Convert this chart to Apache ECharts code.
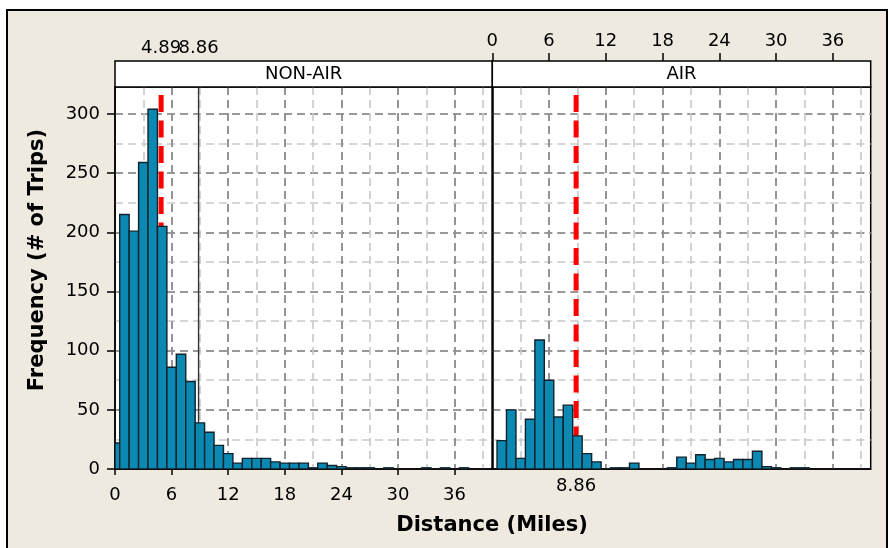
<!DOCTYPE html>
<html><head><meta charset="utf-8">
<script src="https://cdn.jsdelivr.net/npm/echarts@6/dist/echarts.min.js"></script>
<style>html,body{margin:0;padding:0;background:#fff}#c{width:889px;height:548px}</style>
</head><body><div id="c"></div>
<script>
// ---- data ----
const nonAirBins   = [0,1,2,3,4,5,6,7,8,9,10,11,12,13,14,15,16,17,18,19,20,21,22,23,24,25,26,27,28,29,30,31,32,33,34,35,36,37];
const nonAirCounts = [22,215,201,259,304,205,86,97,74,39,31,20,13,5,9,9,9,6,5,5,5,1,5,3,2,1,1,1,0,1,0,0,0,1,0,1,0,1];
const airBins      = [0,1,2,3,4,5,6,7,8,9,10,11,12,13,14,15,16,17,18,19,20,21,22,23,24,25,26,27,28,29,30,31,32,33];
const airCounts    = [0,24,50,9,42,109,75,44,54,28,13,6,0,1,1,5,0,0,0,1,10,5,12,8,9,6,8,8,15,2,1,0,1,1];
const binWidth = 1;
const panelNames = ['NON-AIR', 'AIR'];
const nonAirMean = 4.89;
const airMean = 8.86;
const overallMean = 8.86;
const xMin = 0, xMax = 40, xStep = 6, xMinorStep = 3;
const yMin = 0, yMax = 322.8, yStep = 50, yMinorStep = 25;
const xTitle = 'Distance (Miles)';
const yTitle = 'Frequency (# of Trips)';

// ---- style ----
const FONT = 'DejaVu Sans';
const BG = '#EEEAE0';
const BAR = '#0B89B3';
const EDGE = '#10232c';
const DARK = '#858585';
const LIGHT = '#C9C9C9';

const G0 = {left: 115, top: 87, width: 377.3, height: 382};
const G1 = {left: 492.3, top: 87, width: 378.4, height: 382};

function pairs(xs, ys) { return xs.map((x, i) => [x, ys[i]]); }

function barItem(params, api) {
  const c = api.value(0), v = api.value(1);
  if (!v) return null;
  const p0 = api.coord([Math.max(c - binWidth / 2, xMin), v]);
  const p1 = api.coord([c + binWidth / 2, 0]);
  return {
    type: 'rect',
    shape: {x: p0[0], y: p0[1], width: p1[0] - p0[0], height: p1[1] - p0[1]},
    style: {fill: BAR, stroke: EDGE, lineWidth: 1.4}
  };
}

const minorX = (g) => ({
  type: 'value', gridIndex: g, min: xMin, max: xMax, interval: xMinorStep, position: 'bottom',
  axisLine: {show: false}, axisTick: {show: false}, axisLabel: {show: false},
  splitLine: {show: true, showMinLine: false, showMaxLine: false, lineStyle: {color: LIGHT, width: 1.6, type: [8, 5]}}
});
const minorY = (g) => ({
  type: 'value', gridIndex: g, min: yMin, max: yMax, interval: yMinorStep, position: 'left',
  axisLine: {show: false}, axisTick: {show: false}, axisLabel: {show: false},
  splitLine: {show: true, showMinLine: false, showMaxLine: false, lineStyle: {color: LIGHT, width: 1.6, type: [8, 5]}}
});
const refLabelAxis = (g, v) => ({
  type: 'value', gridIndex: g, min: xMin, max: xMax, position: 'top', offset: 26,
  axisLine: {show: false}, axisTick: {show: false}, splitLine: {show: false},
  axisLabel: Object.assign({margin: 4, customValues: [v], showMinLabel: true, showMaxLabel: true}, lblStyle)
});
const majorSplit = {show: true, showMinLine: false, showMaxLine: false, lineStyle: {color: DARK, width: 1.6, type: [8, 5]}};
const lblStyle = {fontFamily: FONT, fontSize: 18, color: '#000'};

const option = {
  backgroundColor: '#fff',
  animation: false,
  grid: [
    Object.assign({show: true, backgroundColor: '#fff', borderColor: '#000', borderWidth: 1.5}, G0),
    Object.assign({show: true, backgroundColor: '#fff', borderColor: '#000', borderWidth: 1.5}, G1)
  ],
  xAxis: [
    minorX(0), minorX(1),
    { // 2: left bottom
      type: 'value', gridIndex: 0, min: xMin, max: xMax, interval: xStep, position: 'bottom',
      axisLine: {show: true, lineStyle: {color: '#000', width: 1.5}},
      axisTick: {show: true, length: 6, lineStyle: {color: '#000', width: 1.5}},
      axisLabel: Object.assign({margin: 17, showMaxLabel: false}, lblStyle),
      splitLine: majorSplit
    },
    { // 3: right bottom
      type: 'value', gridIndex: 1, min: xMin, max: xMax, interval: xStep, position: 'bottom',
      axisLine: {show: true, lineStyle: {color: '#000', width: 1.5}},
      axisTick: {show: false},
      axisLabel: Object.assign({margin: 8, customValues: [airMean], showMinLabel: true, showMaxLabel: true}, lblStyle),
      splitLine: majorSplit
    },
    refLabelAxis(0, nonAirMean), // 4
    refLabelAxis(0, overallMean), // 5
    { // 6: right top scale
      type: 'value', gridIndex: 1, min: xMin, max: xMax, interval: xStep, position: 'top', offset: 26,
      axisLine: {show: false},
      axisTick: {show: true, length: 8, lineStyle: {color: '#000', width: 1.5}},
      splitLine: {show: false},
      axisLabel: Object.assign({margin: 11, showMaxLabel: false}, lblStyle)
    }
  ],
  yAxis: [
    minorY(0), minorY(1),
    { // 2: left
      type: 'value', gridIndex: 0, min: yMin, max: yMax, interval: yStep, position: 'left',
      axisLine: {show: true, lineStyle: {color: '#000', width: 1.5}},
      axisTick: {show: true, length: 8, lineStyle: {color: '#000', width: 1.5}},
      axisLabel: Object.assign({margin: 15, showMaxLabel: false}, lblStyle),
      splitLine: majorSplit
    },
    { // 3: right
      type: 'value', gridIndex: 1, min: yMin, max: yMax, interval: yStep, position: 'left',
      axisLine: {show: true, lineStyle: {color: '#000', width: 1.5}},
      axisTick: {show: false}, axisLabel: {show: false},
      splitLine: majorSplit
    }
  ],
  series: [
    {type: 'line', xAxisIndex: 2, yAxisIndex: 2, z: 1, symbol: 'none', silent: true,
     data: [[overallMean, yMin], [overallMean, yMax]], lineStyle: {color: '#333', width: 1.4}},
    {type: 'line', xAxisIndex: 2, yAxisIndex: 2, z: 1, symbol: 'none', silent: true,
     data: [[nonAirMean, yMin], [nonAirMean, yMax]], lineStyle: {color: '#FF0000', width: 5, type: [17, 8.5]}},
    {type: 'line', xAxisIndex: 3, yAxisIndex: 3, z: 1, symbol: 'none', silent: true,
     data: [[airMean, yMin], [airMean, yMax]], lineStyle: {color: '#FF0000', width: 5, type: [17, 8.5]}},
    {type: 'custom', xAxisIndex: 2, yAxisIndex: 2, z: 3, renderItem: barItem, clip: true,
     data: pairs(nonAirBins, nonAirCounts)},
    {type: 'custom', xAxisIndex: 3, yAxisIndex: 3, z: 3, renderItem: barItem, clip: true,
     data: pairs(airBins, airCounts)}
  ],
  graphic: [
    {type: 'rect', z: -100, shape: {x: 7, y: 10, width: 880, height: 560},
     style: {fill: BG, stroke: '#000', lineWidth: 2}},
    {type: 'rect', z: 50, shape: {x: G0.left, y: 61, width: G0.width, height: 26},
     style: {fill: '#fff', stroke: '#000', lineWidth: 1.5}},
    {type: 'rect', z: 50, shape: {x: G1.left, y: 61, width: G1.width, height: 26},
     style: {fill: '#fff', stroke: '#000', lineWidth: 1.5}},
    {type: 'text', z: 51, x: G0.left + G0.width / 2, y: 74.5,
     style: {text: panelNames[0], font: '18px "DejaVu Sans"', fill: '#000', textAlign: 'center', textVerticalAlign: 'middle'}},
    {type: 'text', z: 51, x: G1.left + G1.width / 2, y: 74.5,
     style: {text: panelNames[1], font: '18px "DejaVu Sans"', fill: '#000', textAlign: 'center', textVerticalAlign: 'middle'}},
    {type: 'text', z: 51, x: 492, y: 526,
     style: {text: xTitle, font: 'bold 21px "DejaVu Sans"', fill: '#000', textAlign: 'center', textVerticalAlign: 'middle'}},
    {type: 'text', z: 51, x: 38, y: 260, rotation: Math.PI / 2,
     style: {text: yTitle, font: 'bold 21px "DejaVu Sans"', fill: '#000', textAlign: 'center', textVerticalAlign: 'middle'}}
  ]
};

const chart = echarts.init(document.getElementById('c'), null, {renderer: 'canvas'});
chart.setOption(option);
</script>
</body></html>
